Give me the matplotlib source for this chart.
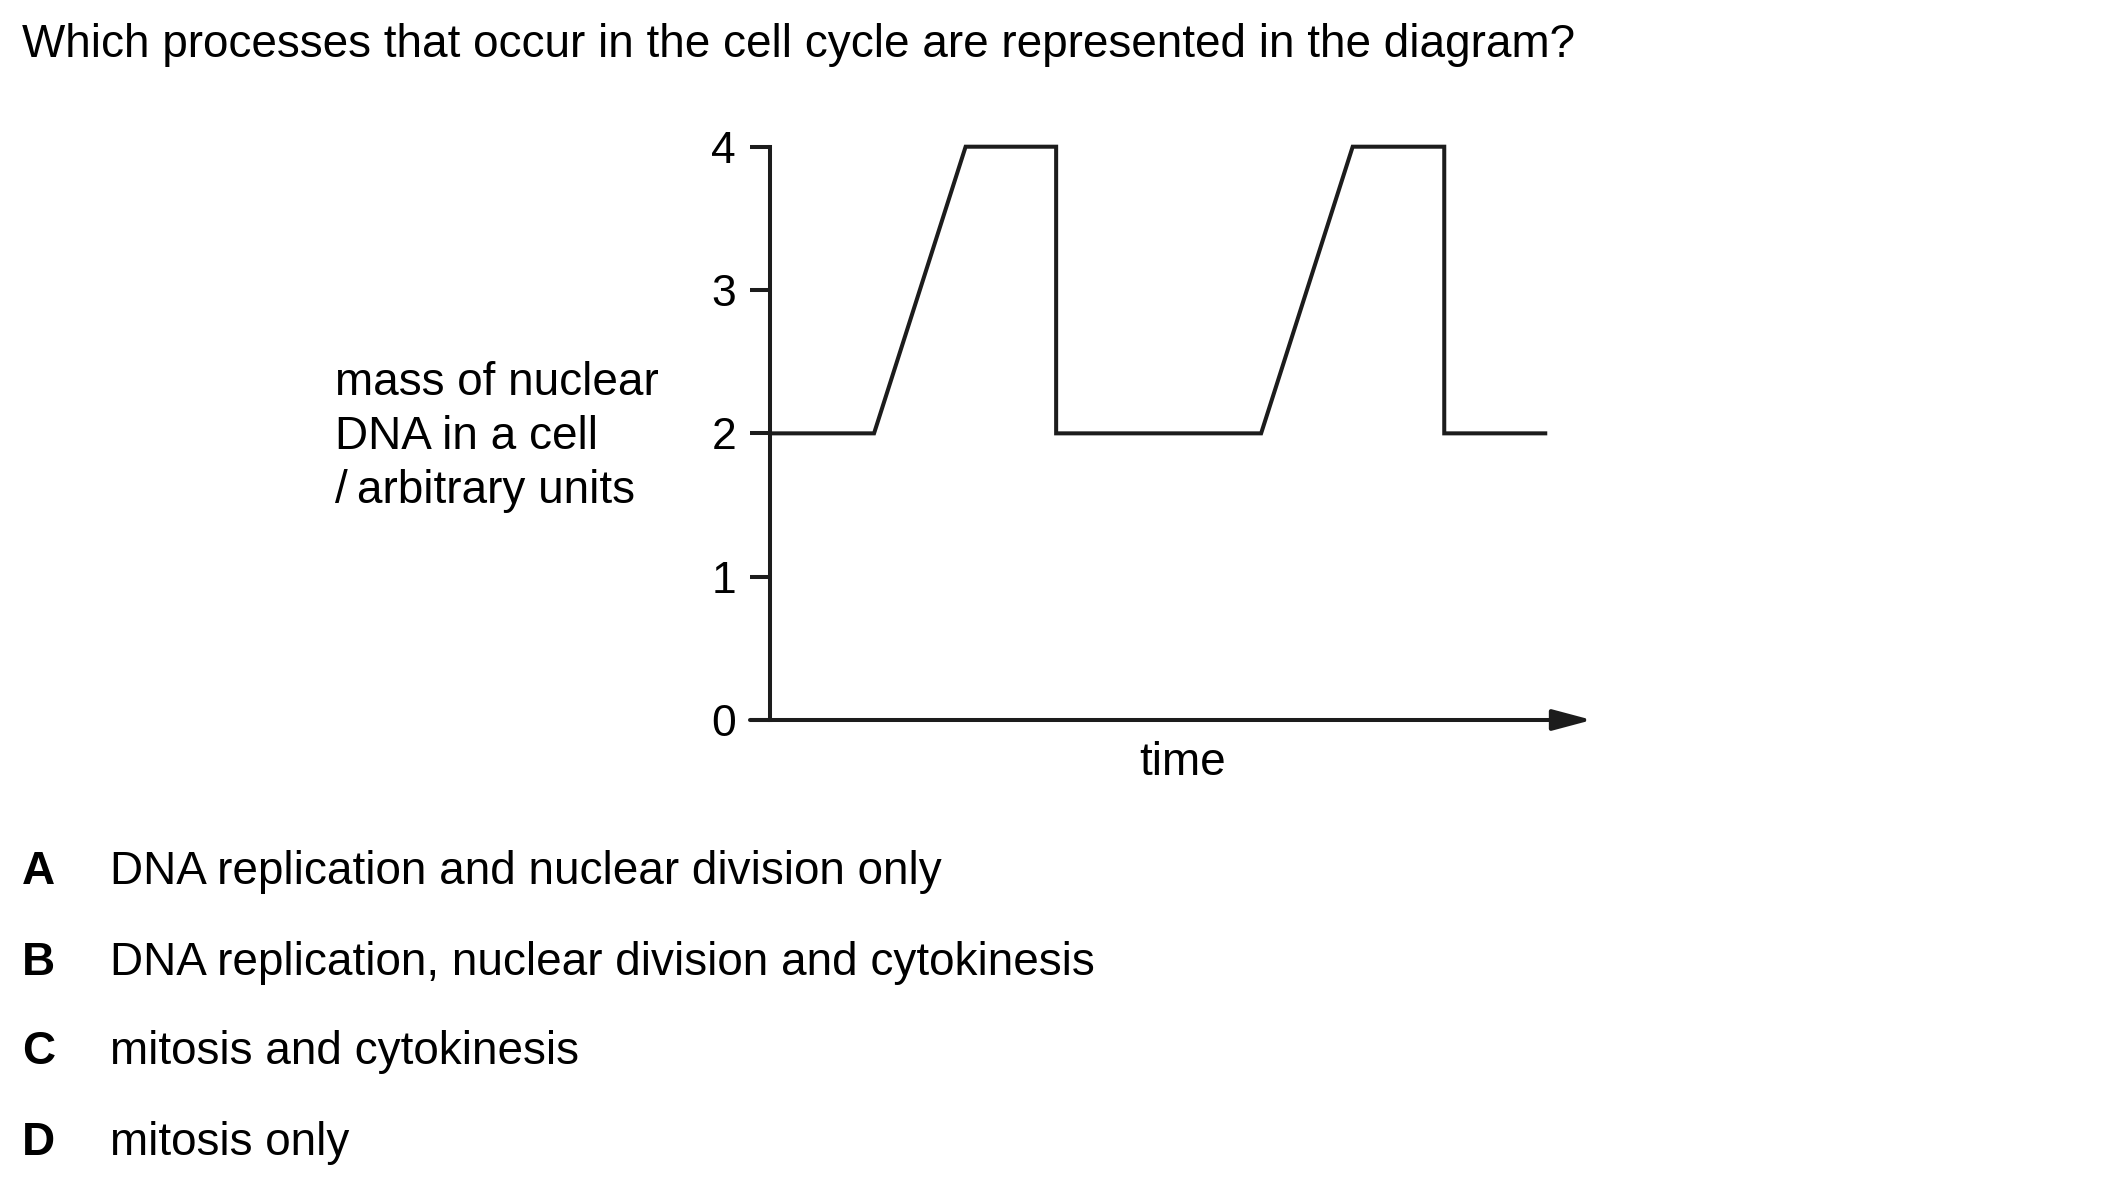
import matplotlib
matplotlib.use("Agg")
import matplotlib.pyplot as plt

W, H = 2103, 1185
DPI = 100

# DNA mass trace (time in arbitrary units, DNA in arbitrary units)
time = [0, 1.0, 1.88, 2.75, 2.75, 4.72, 5.6, 6.48, 6.48, 7.47]
dna = [2, 2, 4, 4, 2, 2, 4, 4, 2, 2]
y_ticks = [0, 1, 2, 3, 4]
x_end = 7.9

question = "Which processes that occur in the cell cycle are represented in the diagram?"
ylabel_lines = ["mass of nuclear", "DNA in a cell", "/\u2009arbitrary units"]
xlabel = "time"
option_letters = ["A", "B", "C", "D"]
option_texts = ["DNA replication and nuclear division only",
                "DNA replication, nuclear division and cytokinesis",
                "mitosis and cytokinesis",
                "mitosis only"]

plt.rcParams.update({"font.family": ["Liberation Sans", "DejaVu Sans"]})
INK = "#1c1c1c"
FS = 33


def fx(px):
    return px / W


def fy(py):
    return 1 - py / H


fig = plt.figure(figsize=(W / DPI, H / DPI), dpi=DPI)
fig.patch.set_facecolor("white")

# axes box: x 770..1592 px, y=0 at 720 px, y=4 at 146.7 px
ax = fig.add_axes([fx(770), fy(720), fx(1592) - fx(770), (720 - 146.7) / H])
ax.set_xlim(0, x_end)
ax.set_ylim(0, 4)
ax.patch.set_alpha(0)

ax.plot(time, dna, color=INK, lw=2.9, solid_joinstyle="miter",
        solid_capstyle="butt", clip_on=False)

for s in ["top", "right", "bottom"]:
    ax.spines[s].set_visible(False)
ax.spines["left"].set_linewidth(2.9)
ax.spines["left"].set_color(INK)

ax.set_yticks(y_ticks)
ax.set_yticklabels([str(t) for t in y_ticks])
ax.tick_params(axis="y", direction="out", length=14.4, width=2.9,
               color=INK, pad=10, labelsize=32)
ax.set_xticks([])

# x axis with arrow head
ax.annotate("", xy=(x_end, 0), xytext=(-20 / 104, 0),
            xycoords="data", textcoords="data", annotation_clip=False,
            arrowprops=dict(arrowstyle="-|>,head_length=1.2,head_width=0.32",
                            mutation_scale=20, color=INK, lw=2.9,
                            shrinkA=0, shrinkB=0))

fig.text(fx(1183), fy(775), xlabel, ha="center", va="baseline", fontsize=FS)
for line, base in zip(ylabel_lines, [395, 449, 503]):
    fig.text(fx(335), fy(base), line, ha="left", va="baseline", fontsize=FS)

fig.text(fx(22), fy(57), question, ha="left", va="baseline", fontsize=FS)

for letter, txt, base in zip(option_letters, option_texts,
                             [884, 975, 1064, 1155]):
    fig.text(fx(22), fy(base), letter, ha="left", va="baseline", fontsize=FS,
             fontweight="bold")
    fig.text(fx(110), fy(base), txt, ha="left", va="baseline", fontsize=FS)

fig.savefig("out.png", dpi=DPI, facecolor="white")
